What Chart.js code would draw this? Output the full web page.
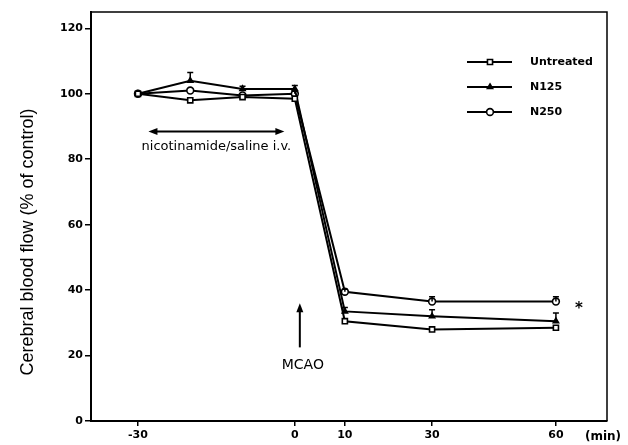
<!DOCTYPE html>
<html>
<head>
<meta charset="utf-8">
<script src="https://cdn.jsdelivr.net/npm/chart.js@4.4.1/dist/chart.umd.min.js"></script>
<style>
  html, body { margin: 0; padding: 0; background: #fff; }
</style>
</head>
<body>
<canvas id="cbf" width="628" height="445"></canvas>
<script>
// dados (CBF em % do controle)
const minutes = [-30, -20, -10, 0, 10, 30, 60];
const untreated = [100, 98, 99, 98.5, 30.5, 28, 28.5];
const n125 = [100, 104, 101.5, 101.5, 33.5, 32, 30.5];
const n250 = [100, 101, 99.5, 100, 39.5, 36.5, 36.5];
const untreatedErr = [0, 0, 0, 0, 0, 0, 0];
const n125Err = [0, 2.5, 0.8, 1, 1.2, 2, 2.5];
const n250Err = [0, 0, 0, 0.8, 0.8, 1.5, 1.5];
const xTicks = [-30, 0, 10, 30, 60];
const yTicks = [0, 20, 40, 60, 80, 100, 120];

// o eixo x do original nao e linear: cada trecho tem sua propria escala
const xKnots = [[-30, 0.091], [0, 0.395], [10, 0.492], [30, 0.661], [60, 0.901]];

class PiecewiseScale extends Chart.LinearScale {
  static id = 'piecewise';
  static defaults = Chart.LinearScale.defaults;
  getPixelForValue(value) {
    const k = xKnots;
    let i = 0;
    while (i < k.length - 2 && value > k[i + 1][0]) i++;
    const [v0, f0] = k[i];
    const [v1, f1] = k[i + 1];
    const frac = f0 + (value - v0) * (f1 - f0) / (v1 - v0);
    return this.getPixelForDecimal(frac);
  }
  getValueForPixel(pixel) {
    const frac = this.getDecimalForPixel(pixel);
    const k = xKnots;
    let i = 0;
    while (i < k.length - 2 && frac > k[i + 1][1]) i++;
    const [v0, f0] = k[i];
    const [v1, f1] = k[i + 1];
    return v0 + (frac - f0) * (v1 - v0) / (f1 - f0);
  }
}
Chart.register(PiecewiseScale);

const pts = (arr) => minutes.map((m, i) => ({ x: m, y: arr[i] }));
const errs = [untreatedErr, n125Err, n250Err];

const errorBars = {
  id: 'errorBars',
  afterDatasetsDraw(chart) {
    const { ctx, scales: { y } } = chart;
    ctx.save();
    ctx.strokeStyle = '#000';
    ctx.lineWidth = 1.5;
    chart.data.datasets.forEach((ds, di) => {
      const meta = chart.getDatasetMeta(di);
      meta.data.forEach((p, j) => {
        const e = errs[di][j];
        if (!e) return;
        const top = y.getPixelForValue(ds.data[j].y + e);
        ctx.beginPath();
        ctx.moveTo(p.x, p.y);
        ctx.lineTo(p.x, top);
        ctx.moveTo(p.x - 3, top);
        ctx.lineTo(p.x + 3, top);
        ctx.stroke();
      });
    });
    ctx.restore();
  },
};

function arrowHead(ctx, x, y, dx, dy) {
  // ponta cheia apontando na direcao (dx, dy)
  const L = 9, W = 3.5;
  const px = -dy, py = dx;
  ctx.beginPath();
  ctx.moveTo(x, y);
  ctx.lineTo(x - dx * L + px * W, y - dy * L + py * W);
  ctx.lineTo(x - dx * L - px * W, y - dy * L - py * W);
  ctx.closePath();
  ctx.fill();
}

const decorations = {
  id: 'decorations',
  afterDraw(chart) {
    const { ctx, chartArea: a, scales: { x, y } } = chart;
    ctx.save();
    ctx.strokeStyle = '#000';
    ctx.fillStyle = '#000';

    // moldura superior e direita
    ctx.lineWidth = 1.5;
    ctx.beginPath();
    ctx.moveTo(a.left, a.top);
    ctx.lineTo(a.right, a.top);
    ctx.lineTo(a.right, a.bottom);
    ctx.stroke();

    // titulo do eixo y
    ctx.save();
    ctx.translate(28, 242);
    ctx.rotate(-Math.PI / 2);
    ctx.textAlign = 'center';
    ctx.textBaseline = 'middle';
    ctx.font = '18px "Liberation Sans", Arial, sans-serif';
    ctx.fillText('Cerebral blood flow (% of control)', 0, 0);
    ctx.restore();

    // (min)
    ctx.textAlign = 'center';
    ctx.textBaseline = 'middle';
    ctx.font = 'bold 12px "DejaVu Sans", sans-serif';
    ctx.fillText('(min)', 603, 437);

    // periodo de infusao: seta dupla
    const y0 = y.getPixelForValue(88.5);
    const xa = x.getPixelForValue(-28), xb = x.getPixelForValue(-2);
    ctx.lineWidth = 2;
    ctx.beginPath();
    ctx.moveTo(xa + 6, y0);
    ctx.lineTo(xb - 6, y0);
    ctx.stroke();
    arrowHead(ctx, xa, y0, -1, 0);
    arrowHead(ctx, xb, y0, 1, 0);
    ctx.font = '13px "DejaVu Sans", sans-serif';
    ctx.fillText('nicotinamide/saline i.v.', (xa + xb) / 2, y0 + 15);

    // MCAO
    const xm = x.getPixelForValue(1);
    const yTop = y.getPixelForValue(36), yBot = y.getPixelForValue(22.5);
    ctx.beginPath();
    ctx.moveTo(xm, yBot);
    ctx.lineTo(xm, yTop + 6);
    ctx.stroke();
    arrowHead(ctx, xm, yTop, 0, -1);
    ctx.font = '14px "DejaVu Sans", sans-serif';
    ctx.fillText('MCAO', xm + 3, yBot + 18);

    // asterisco
    ctx.font = 'bold 15px "DejaVu Sans", sans-serif';
    ctx.fillText('*', 579, 309);

    // legenda: linha + marcador
    const rows = [62, 87, 112];
    chart.data.datasets.forEach((ds, i) => {
      const ry = rows[i];
      ctx.lineWidth = 2;
      ctx.strokeStyle = '#000';
      ctx.beginPath();
      ctx.moveTo(467, ry);
      ctx.lineTo(512, ry);
      ctx.stroke();
      ctx.fillStyle = ds.pointBackgroundColor;
      ctx.lineWidth = ds.pointBorderWidth;
      Chart.helpers.drawPoint(ctx, { pointStyle: ds.pointStyle, radius: ds.pointRadius, borderWidth: ds.pointBorderWidth }, 490, ry);
      ctx.fillStyle = '#000';
      ctx.textAlign = 'left';
      ctx.font = 'bold 11px "DejaVu Sans", sans-serif';
      ctx.fillText(ds.label, 530, ry);
    });
    ctx.restore();
  },
};

const tickFont = { family: '"DejaVu Sans", sans-serif', size: 11, weight: 'bold' };

new Chart(document.getElementById('cbf'), {
  type: 'line',
  data: {
    datasets: [
      {
        label: 'Untreated',
        data: pts(untreated),
        pointStyle: 'rect',
        pointRadius: 3.6,
        pointBackgroundColor: '#fff',
      },
      {
        label: 'N125',
        data: pts(n125),
        pointStyle: 'triangle',
        pointRadius: 3,
        pointBackgroundColor: '#000',
      },
      {
        label: 'N250',
        data: pts(n250),
        pointStyle: 'circle',
        pointRadius: 3.4,
        pointBackgroundColor: '#fff',
      },
    ].map((d) => ({
      ...d,
      borderColor: '#000',
      borderWidth: 2,
      pointBorderColor: '#000',
      pointBorderWidth: 1.6,
      tension: 0,
      fill: false,
    })),
  },
  options: {
    responsive: false,
    animation: false,
    devicePixelRatio: 1,
    layout: { padding: { top: 12, right: 21, left: 0, bottom: 0 } },
    plugins: { legend: { display: false }, tooltip: { enabled: false } },
    scales: {
      x: {
        type: 'piecewise',
        min: -40,
        max: 72,
        afterBuildTicks: (s) => { s.ticks = xTicks.map((v) => ({ value: v })); },
        afterFit: (s) => { s.height = 24; },
        grid: { drawOnChartArea: false, color: '#000', lineWidth: 1.5, tickLength: 5 },
        border: { color: '#000', width: 2 },
        ticks: { color: '#000', font: tickFont, padding: 3, maxRotation: 0, autoSkip: false },
      },
      y: {
        min: 0,
        max: 125,
        afterBuildTicks: (s) => { s.ticks = yTicks.map((v) => ({ value: v })); },
        afterFit: (s) => { s.width = 91; },
        grid: { drawOnChartArea: false, color: '#000', lineWidth: 1.5, tickLength: 6 },
        border: { color: '#000', width: 2 },
        ticks: { color: '#000', font: tickFont, padding: 2 },
      },
    },
  },
  plugins: [errorBars, decorations],
});
</script>
</body>
</html>
